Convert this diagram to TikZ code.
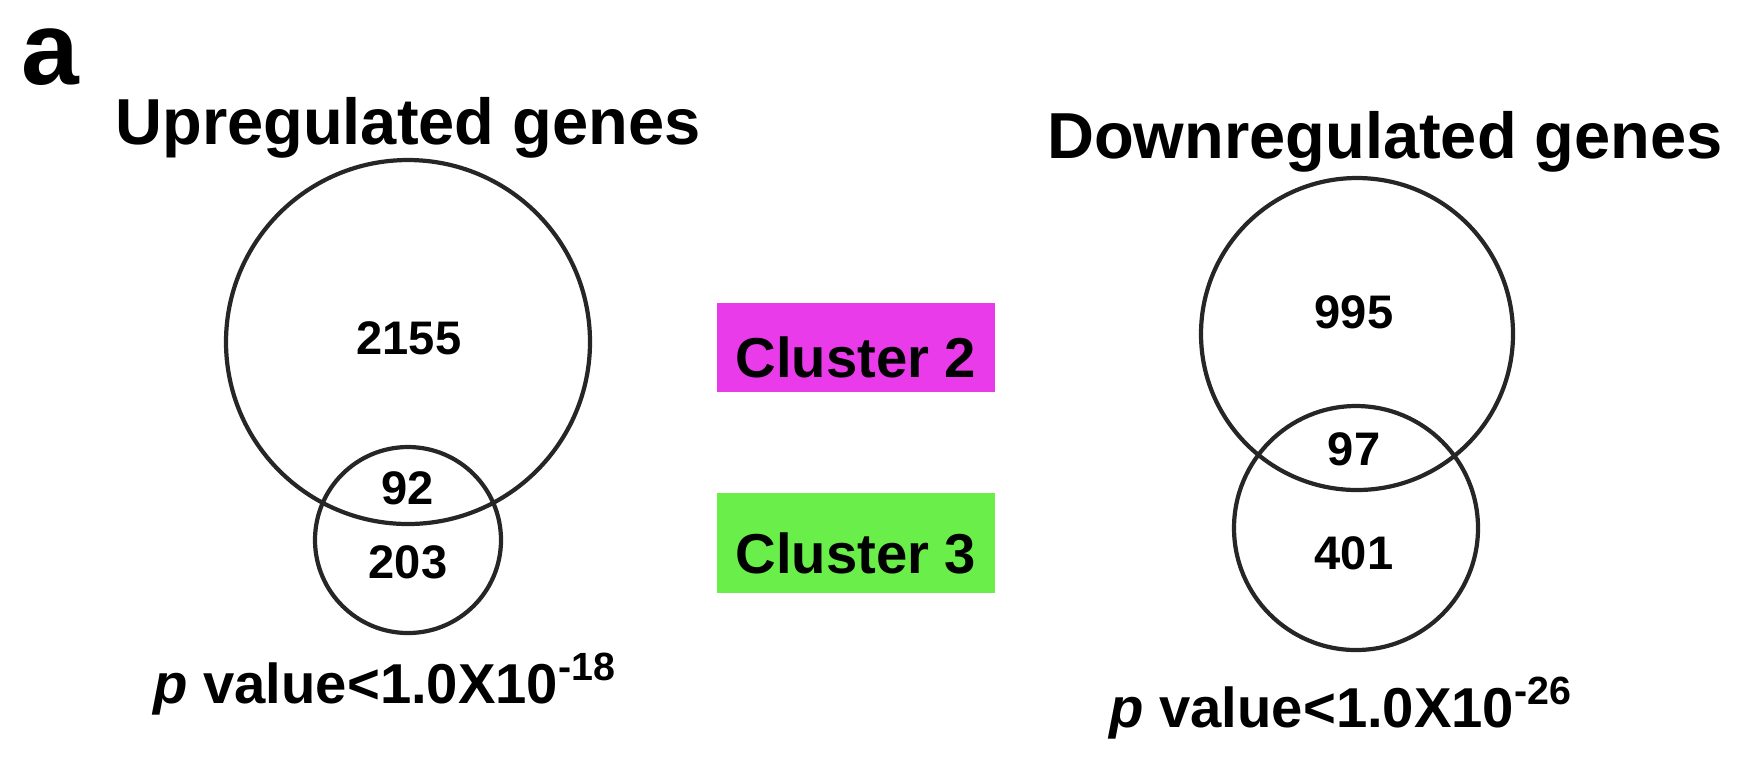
\documentclass[tikz,border=0pt]{standalone}
\usepackage{fontspec}
\setmainfont{Liberation Sans}

\definecolor{clustermagenta}{RGB}{233,59,233}
\definecolor{clustergreen}{RGB}{106,238,74}

\tikzset{
    venn/.style={draw=black!85, line width=1.2pt, circle, inner sep=0pt},
    count/.style={font=\fontsize{13.4}{16}\selectfont\bfseries},
    clusterbox/.style={minimum width=2.78cm, inner sep=0pt, text height=0.6cm, text depth=0pt,
        font=\fontsize{16}{18}\selectfont\bfseries},
    heading/.style={anchor=base, font=\fontsize{18.5}{22}\selectfont\bfseries},
    pvalue/.style={anchor=base west, font=\fontsize{16}{19}\selectfont\bfseries}
}

\begin{document}
\begin{tikzpicture}
        \useasboundingbox (0,0) rectangle (17.5,-7.58);

        % Define panel letter and titles
        \node[anchor=base west, font=\fontsize{29.5}{32}\selectfont\bfseries] (panel) at (0.09,-0.84) {a};
        \node[heading] (uptitle) at (4.08,-1.44) {Upregulated genes};
        \node[heading] (downtitle) at (13.85,-1.58) {Downregulated genes};

        % Define venn circles
        \foreach \name/\x/\y/\d in
        {
            upbig/4.08/-3.42/3.64,
            upsmall/4.08/-5.40/1.86,
            downbig/13.57/-3.34/3.12,
            downsmall/13.56/-5.28/2.44
        } {
        \node[venn, minimum size=\d cm] (\name) at (\x,\y) {};
        }

        % Define gene counts
        \foreach \name/\x/\y/\num in
        {
            upbignum/4.09/-3.38/2155,
            upboth/4.08/-4.88/92,
            upsmallnum/4.08/-5.62/203,
            downbignum/13.54/-3.12/995,
            downboth/13.54/-4.49/97,
            downsmallnum/13.54/-5.53/401
        } {
        \node[count] (\name) at (\x,\y) {\num};
        }

        % Define cluster boxes
        \node[clusterbox, fill=clustermagenta, minimum height=0.89cm] (cluster2) at (8.56,-3.475) {Cluster 2};
        \node[clusterbox, fill=clustergreen, minimum height=1.00cm] (cluster3) at (8.56,-5.43) {Cluster 3};

        % Define p values
        \node[pvalue] (uppval) at (1.41,-7.03) {\textit{p} value<1.0X10\textsuperscript{-18}};
        \node[pvalue] (downpval) at (10.97,-7.27) {\textit{p} value<1.0X10\textsuperscript{-26}};
    \end{tikzpicture}
\end{document}
